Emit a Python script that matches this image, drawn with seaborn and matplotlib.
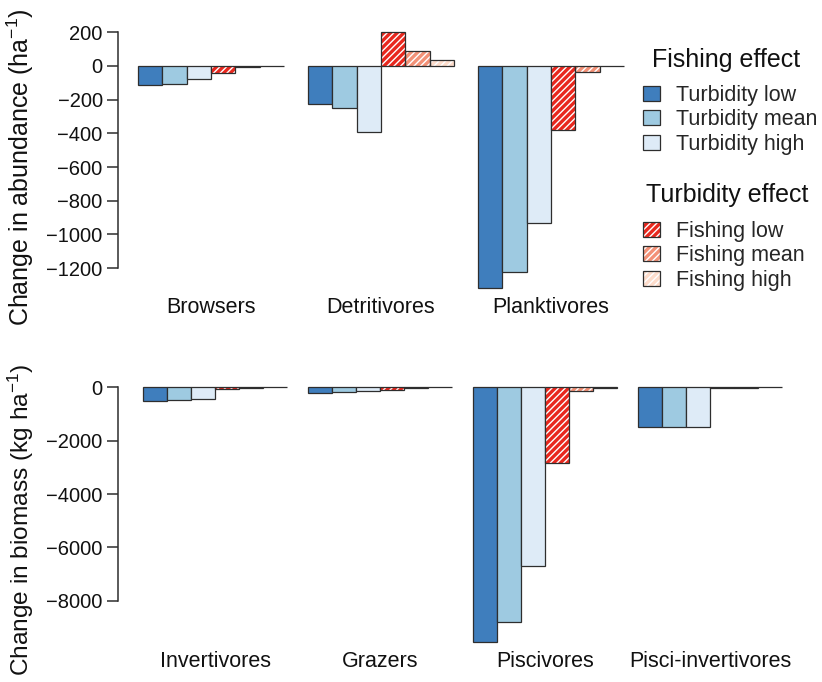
import numpy as np
import pandas as pd
import matplotlib
matplotlib.use("Agg")
import matplotlib.pyplot as plt
import matplotlib.colors as mcolors
from matplotlib.patches import Patch, Rectangle
import seaborn as sns

# data
series = ["Turbidity low", "Turbidity mean", "Turbidity high",
          "Fishing low", "Fishing mean", "Fishing high"]

groups_top = ["Browsers", "Detritivores", "Planktivores"]
turb_low_ab = [-115, -224, -1318]
turb_mean_ab = [-105, -251, -1222]
turb_high_ab = [-77, -394, -935]
fish_low_ab = [-40, 204, -380]
fish_mean_ab = [-5, 91, -36]
fish_high_ab = [-2, 34, -3]

groups_bot = ["Invertivores", "Grazers", "Piscivores", "Pisci-invertivores"]
turb_low_bm = [-500, -210, -9540, -1500]
turb_mean_bm = [-490, -185, -8800, -1500]
turb_high_bm = [-440, -125, -6700, -1500]
fish_low_bm = [-80, -110, -2850, -25]
fish_mean_bm = [-25, -25, -130, -15]
fish_high_bm = [-5, -5, -10, -5]

colores = {
    "Turbidity low": "#3f7ebd",
    "Turbidity mean": "#9ecae1",
    "Turbidity high": "#deebf7",
    "Fishing low": "#e8281e",
    "Fishing mean": "#f39177",
    "Fishing high": "#fddccb",
}
hatched = ["Fishing low", "Fishing mean", "Fishing high"]
EDGE = "#2e2e2e"
HATCH = "/////"
W, H = 822, 682

sns.set_theme(style="white")
plt.rcParams["font.family"] = ["Liberation Sans", "DejaVu Sans"]
plt.rcParams["mathtext.fontset"] = "custom"
plt.rcParams["mathtext.rm"] = "Liberation Sans"
plt.rcParams["mathtext.default"] = "regular"
plt.rcParams["hatch.linewidth"] = 1.0


def a_largo(grupos, valores):
    filas = []
    for s, vals in zip(series, valores):
        for g, v in zip(grupos, vals):
            filas.append({"group": g, "series": s, "value": v})
    return pd.DataFrame(filas)


def panel(ax, grupos, valores, ancho, ylabel, lims, xlim, bounds, ticks):
    df = a_largo(grupos, valores)
    sns.barplot(data=df, x="group", y="value", hue="series", order=grupos,
                hue_order=series, palette=colores, width=ancho, saturation=1,
                errorbar=None, edgecolor=EDGE, linewidth=0.9, legend=False, ax=ax)

    # hatched series: white stripes + dark outline on top
    for s in hatched:
        c = mcolors.to_rgba(colores[s])
        for p in ax.patches[:]:
            if np.allclose(p.get_facecolor(), c, atol=0.01):
                p.set_hatch(HATCH)
                p.set_edgecolor("white")
                p.set_linewidth(0)
                ax.add_patch(Rectangle(p.get_xy(), p.get_width(), p.get_height(),
                                       fill=False, edgecolor=EDGE, linewidth=0.9,
                                       zorder=p.get_zorder() + 0.1))

    ax.set_ylim(*lims)
    ax.set_xlim(*xlim)
    ax.set_yticks(ticks)
    ax.spines[["top", "right", "bottom"]].set_visible(False)
    ax.spines["left"].set_bounds(*bounds)
    ax.spines["left"].set_color(EDGE)
    ax.spines["left"].set_linewidth(1.1)
    ax.tick_params(axis="y", left=True, length=8, width=1.1, color=EDGE,
                   pad=3, labelsize=14.5, labelcolor="#111111")
    ax.tick_params(axis="x", bottom=False, length=0, pad=5, labelsize=15.5,
                   labelcolor="#111111")
    ax.set_xlabel("")
    ax.set_ylabel(ylabel, fontsize=18, color="#111111")


fig = plt.figure(figsize=(W / 100, H / 100), dpi=100)
ax1 = fig.add_axes([118 / W, 1 - 290 / H, 518 / W, 259.4 / H])
ax2 = fig.add_axes([118 / W, 1 - 643.6 / H, 674.5 / W, 259 / H])

panel(ax1, groups_top,
      [turb_low_ab, turb_mean_ab, turb_high_ab, fish_low_ab, fish_mean_ab, fish_high_ab],
      0.86, "Change in abundance (ha$^{-1}$)", (-1330, 210), (-0.547, 2.5),
      (-1200, 200), np.arange(-1200, 201, 200))
panel(ax2, groups_bot,
      [turb_low_bm, turb_mean_bm, turb_high_bm, fish_low_bm, fish_mean_bm, fish_high_bm],
      0.87, "Change in biomass (kg ha$^{-1}$)", (-9600, 100), (-0.588, 3.5),
      (-8000, 0), np.arange(-8000, 1, 2000))

ax1.yaxis.set_label_coords(-82 / 518, 0.475)
ax2.yaxis.set_label_coords(-82 / 674.5, 0.478)
ax2.yaxis.label.set_fontsize(17.6)

# legends
h_turb = [Patch(facecolor=colores[s], edgecolor=EDGE, linewidth=0.9) for s in series[:3]]
h_fish = [(Patch(facecolor=colores[s], edgecolor="white", linewidth=0, hatch=HATCH),
           Patch(fill=False, edgecolor=EDGE, linewidth=0.9)) for s in hatched]

kw = dict(loc="upper left", frameon=False, fontsize=15.5,
          handlelength=0.8, handleheight=0.7, handletextpad=0.75,
          labelspacing=0.16, borderpad=0, borderaxespad=0)
fig.legend(h_turb, series[:3], bbox_to_anchor=(643 / W, 1 - 85 / H), **kw)
fig.legend(h_fish, hatched, bbox_to_anchor=(643 / W, 1 - 221 / H), **kw)
fig.text(726 / W, 1 - 67 / H, "Fishing effect", ha="center", va="baseline",
         fontsize=18, color="#111111")
fig.text(727 / W, 1 - 202 / H, "Turbidity effect", ha="center", va="baseline",
         fontsize=18, color="#111111")

fig.savefig("out.png", dpi=100)
